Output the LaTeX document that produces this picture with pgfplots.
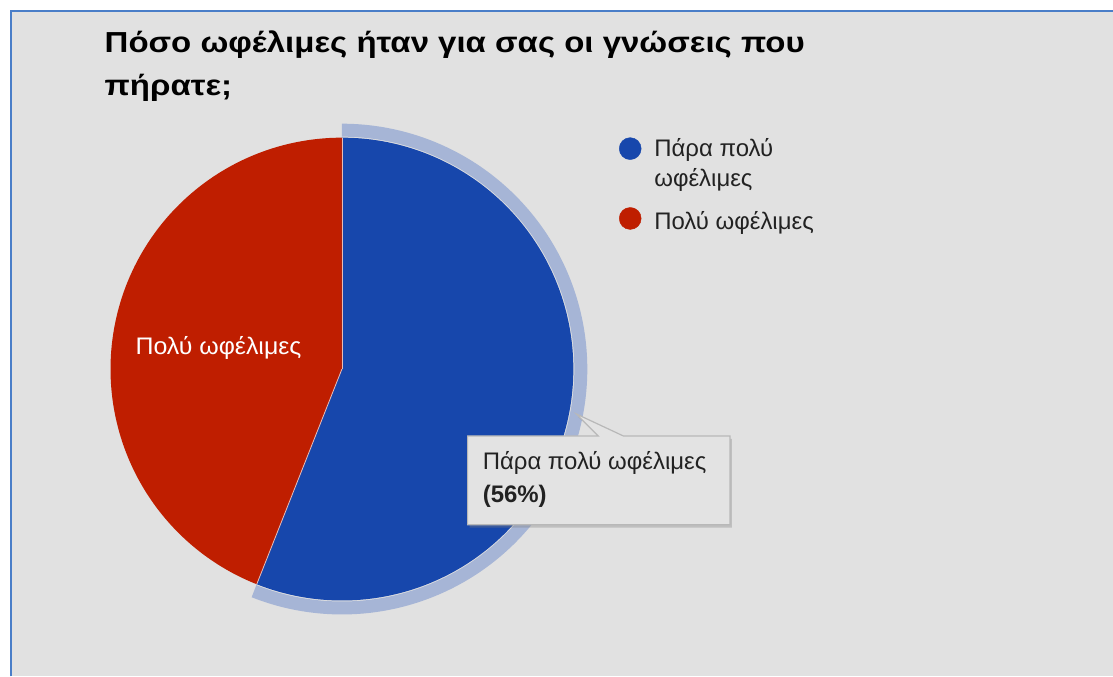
\documentclass[border=0pt]{standalone}
\usepackage{fontspec}
\setmainfont{Liberation Sans}
\usepackage{pgfplots}
\usepackage{pgfplotstable}
\pgfplotsset{compat=1.18}
\usetikzlibrary{shadows}

\definecolor{bgc}{HTML}{E1E1E1}
\definecolor{frame}{HTML}{4A7EC8}
\definecolor{pblue}{HTML}{1747AC}
\definecolor{pred}{HTML}{BF1E00}
\definecolor{ring}{HTML}{A6B5D6}
\definecolor{tipfill}{HTML}{E3E3E3}
\definecolor{tipdraw}{HTML}{B8B8B8}
\definecolor{txt}{HTML}{222222}

\pgfplotstableread{
label value
A 56
B 44
}\piedata

\begin{document}
\pgfplotstablegetelem{0}{value}\of\piedata \let\valA\pgfplotsretval
\pgfplotstablegetelem{1}{value}\of\piedata \let\valB\pgfplotsretval
\pgfmathsetmacro\split{90+3.6*\valB}
\begin{tikzpicture}[x=1pt,y=1pt]
\path[use as bounding box] (0,0) rectangle (1113,678);
\fill[white] (0,0) rectangle (1113,678);
\fill[bgc] (8,0) rectangle (1113,667);
\draw[frame, line width=2.2pt] (8,0) -- (8,667) -- (1113,667);

% title
\node[anchor=base west, inner sep=0pt, font=\fontsize{29}{34}\selectfont\bfseries] at (102,625) {\scalebox{1.14}[1]{Πόσο ωφέλιμες ήταν για σας οι γνώσεις που}};
\node[anchor=base west, inner sep=0pt, font=\fontsize{29}{34}\selectfont\bfseries] at (102,582) {\scalebox{1.14}[1]{πήρατε;}};

\begin{axis}[at={(0,0)}, anchor=south west, width=1113pt, height=678pt,
  scale only axis, xmin=0, xmax=1113, ymin=0, ymax=678, hide axis, clip=false]
% highlight ring on the selected slice
\addplot[draw=ring, line width=13pt, line cap=butt, domain=\split:450, samples=200, variable=\t]
  ({340+239.5*cos(\t)},{308+239.5*sin(\t)});
% slices
\addplot[fill=pred, draw=none, domain=90:\split, samples=150, variable=\t]
  ({340+232*cos(\t)},{308+232*sin(\t)}) -- (axis cs:340,308) -- cycle;
\addplot[fill=pblue, draw=none, domain=\split:450, samples=200, variable=\t]
  ({340+232*cos(\t)},{308+232*sin(\t)}) -- (axis cs:340,308) -- cycle;
% legend dots
\addplot[only marks, mark=*, mark size=11pt, color=pblue] coordinates {(629,529)};
\addplot[only marks, mark=*, mark size=11pt, color=pred] coordinates {(629,459)};
\end{axis}

% slice separators
\draw[white!70!pred, line width=0.8pt] (340,308) -- (340,540);
\draw[white!70!pred, line width=0.8pt] (340,308) -- ++(\split:232);

% slice label
\node[anchor=base west, inner sep=0pt, text=white, font=\fontsize{24}{28}\selectfont] at (133,323) {\scalebox{1.04}[1]{Πολύ ωφέλιμες}};

% legend text
\begin{scope}[every node/.style={anchor=base west, inner sep=0pt, text=txt, font=\fontsize{24}{28}\selectfont}]
\node at (653,521) {Πάρα πολύ};
\node at (653,491) {ωφέλιμες};
\node at (653,448) {Πολύ ωφέλιμες};
\end{scope}

% tooltip
\filldraw[fill=tipfill, draw=tipdraw, line width=1.2pt,
  drop shadow={shadow xshift=2pt, shadow yshift=-3pt, opacity=0.35}]
  (466,241) -- (597,241) -- (575,263) -- (622,241) -- (729,241) -- (729,152) -- (466,152) -- cycle;
\node[anchor=base west, inner sep=0pt, text=txt, font=\fontsize{24}{28}\selectfont] at (481,207) {Πάρα πολύ ωφέλιμες};
\node[anchor=base west, inner sep=0pt, text=txt, font=\fontsize{24}{28}\selectfont\bfseries] at (481,174) {(\valA\%)};
\end{tikzpicture}
\end{document}
